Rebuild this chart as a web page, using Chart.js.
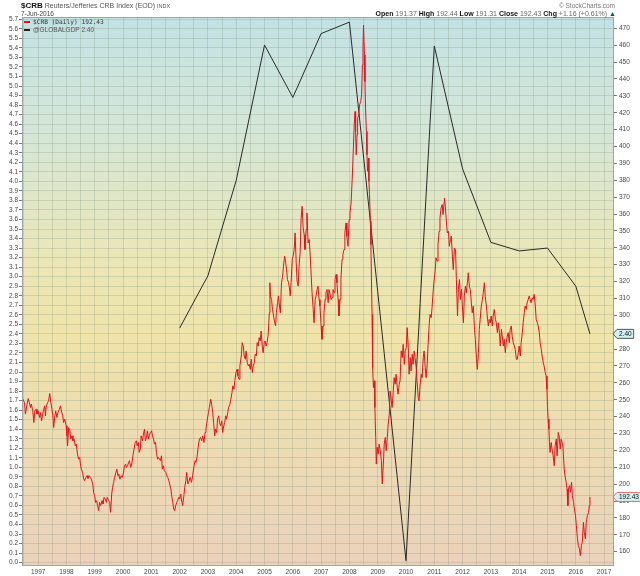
<!DOCTYPE html>
<html>
<head>
<meta charset="utf-8">
<title>$CRB vs @GLOBALGDP</title>
<script src="https://cdn.jsdelivr.net/npm/chart.js@4.4.1/dist/chart.umd.min.js"></script>
<style>
  body { margin: 0; background: #fff; font-family: "Liberation Sans", Arial, sans-serif; }
  #wrap { position: relative; width: 640px; height: 576px; overflow: hidden; }
  #chart { position: absolute; left: 0; top: 0; }
  .txt { position: absolute; white-space: nowrap; color: #444; line-height: 1; }
  #head { left: 21px; top: 2px; font-size: 8px; }
  #sym { font-size: 8px; font-weight: bold; color: #111; }
  #name { font-size: 7px; color: #555; margin-left: 2px; }
  #date { left: 21px; top: 11px; font-size: 6.5px; color: #444; }
  #copy { right: 25px; top: 3px; font-size: 6.5px; color: #777; }
  #quote { right: 24px; top: 10px; font-size: 7px; color: #666; }
  #quote b { color: #111; }
  #legend { left: 24px; top: 19px; font-size: 6.5px; }
  #legend div { height: 8px; }
  #legend i { display: inline-block; width: 6px; height: 2px; margin-right: 3px; vertical-align: middle; }
  .mono { font-family: "DejaVu Sans Mono", "Liberation Mono", monospace; font-size: 6.2px; color: #333; }
</style>
</head>
<body>
<div id="wrap">
  <canvas id="chart" width="640" height="576"></canvas>
  <div class="txt" id="head"><span id="sym">$CRB</span><span id="name">Reuters/Jefferies CRB Index (EOD) <span style="font-size:5.5px">INDX</span></span></div>
  <div class="txt" id="date">7-Jun-2016</div>
  <div class="txt" id="copy">© StockCharts.com</div>
  <div class="txt" id="quote"><b>Open</b> 191.37 <b>High</b> 192.44 <b>Low</b> 191.31 <b>Close</b> 192.43 <b>Chg</b> +1.16 (+0.61%) <span style="color:#063">▲</span></div>
  <div class="txt" id="legend">
    <div><i style="background:#e8101a"></i><span class="mono">$CRB (Daily) 192.43</span></div>
    <div><i style="background:#222"></i><span style="color:#555">@GLOBALGDP 2.40</span></div>
  </div>
</div>
<script>
// CRB index (decimal year / index value)
const crbYears = [
  1996.44, 1996.46, 1996.52, 1996.55, 1996.61, 1996.65, 1996.69, 1996.73, 1996.76, 1996.81, 1996.85, 1996.88, 1996.93, 1996.96,
  1997.00, 1997.05, 1997.08, 1997.12, 1997.16, 1997.20, 1997.23, 1997.26, 1997.28, 1997.33, 1997.37, 1997.41, 1997.45, 1997.49,
  1997.52, 1997.55, 1997.59, 1997.62, 1997.66, 1997.70, 1997.75, 1997.79, 1997.82, 1997.87, 1997.90, 1997.94, 1997.99,
  1998.02, 1998.04, 1998.08, 1998.12, 1998.15, 1998.20, 1998.23, 1998.27, 1998.31, 1998.35, 1998.39, 1998.43, 1998.47, 1998.50,
  1998.53, 1998.57, 1998.61, 1998.64, 1998.69, 1998.73, 1998.76, 1998.81, 1998.84, 1998.88, 1998.93, 1998.96,
  1999.00, 1999.03, 1999.07, 1999.10, 1999.14, 1999.17, 1999.21, 1999.26, 1999.29, 1999.33, 1999.37, 1999.41, 1999.44, 1999.49,
  1999.53, 1999.56, 1999.60, 1999.63, 1999.67, 1999.70, 1999.75, 1999.78, 1999.82, 1999.85, 1999.89, 1999.94, 1999.97,
  2000.01, 2000.05, 2000.09, 2000.12, 2000.16, 2000.20, 2000.23, 2000.27, 2000.31, 2000.35, 2000.39, 2000.43, 2000.47, 2000.50,
  2000.54, 2000.57, 2000.61, 2000.64, 2000.69, 2000.72, 2000.76, 2000.79, 2000.83, 2000.86, 2000.90, 2000.94, 2000.97,
  2001.01, 2001.04, 2001.08, 2001.11, 2001.15, 2001.18, 2001.22, 2001.25, 2001.29, 2001.32, 2001.36, 2001.39, 2001.43, 2001.46,
  2001.51, 2001.55, 2001.58, 2001.62, 2001.65, 2001.69, 2001.72, 2001.76, 2001.79, 2001.83, 2001.86, 2001.90, 2001.93, 2001.97,
  2002.00, 2002.04, 2002.08, 2002.11, 2002.15, 2002.18, 2002.22, 2002.25, 2002.29, 2002.32, 2002.37, 2002.42, 2002.46, 2002.51,
  2002.55, 2002.58, 2002.63, 2002.66, 2002.70, 2002.74, 2002.78, 2002.82, 2002.86, 2002.90, 2002.93, 2002.98,
  2003.02, 2003.05, 2003.10, 2003.13, 2003.17, 2003.20, 2003.24, 2003.27, 2003.31, 2003.34, 2003.38, 2003.41, 2003.45, 2003.49,
  2003.52, 2003.56, 2003.59, 2003.63, 2003.66, 2003.70, 2003.73, 2003.78, 2003.81, 2003.85, 2003.88, 2003.92, 2003.95, 2003.99,
  2004.03, 2004.06, 2004.10, 2004.13, 2004.18, 2004.21, 2004.25, 2004.28, 2004.32, 2004.35, 2004.39, 2004.43, 2004.46, 2004.50,
  2004.53, 2004.57, 2004.60, 2004.64, 2004.67, 2004.71, 2004.74, 2004.78, 2004.81, 2004.85, 2004.88, 2004.92, 2004.95, 2004.99,
  2005.02, 2005.06, 2005.09, 2005.13, 2005.17, 2005.19, 2005.21, 2005.25, 2005.28, 2005.32, 2005.35, 2005.39, 2005.42, 2005.46,
  2005.49, 2005.53, 2005.56, 2005.60, 2005.64, 2005.67, 2005.71, 2005.74, 2005.78, 2005.81, 2005.85, 2005.88, 2005.91, 2005.94, 2005.98,
  2006.01, 2006.05, 2006.08, 2006.12, 2006.15, 2006.19, 2006.22, 2006.26, 2006.29, 2006.33, 2006.36, 2006.40, 2006.43, 2006.47,
  2006.50, 2006.54, 2006.58, 2006.61, 2006.65, 2006.68, 2006.72, 2006.75, 2006.79, 2006.82, 2006.86, 2006.89, 2006.93, 2006.96,
  2007.00, 2007.03, 2007.07, 2007.10, 2007.14, 2007.17, 2007.21, 2007.25, 2007.28, 2007.32, 2007.35, 2007.39, 2007.42, 2007.46,
  2007.49, 2007.53, 2007.56, 2007.60, 2007.63, 2007.67, 2007.70, 2007.74, 2007.77, 2007.81, 2007.84, 2007.88, 2007.91, 2007.95, 2007.99,
  2008.02, 2008.06, 2008.10, 2008.14, 2008.17, 2008.20, 2008.22, 2008.24, 2008.27, 2008.29, 2008.33, 2008.36, 2008.40, 2008.43,
  2008.46, 2008.48, 2008.50, 2008.53, 2008.55, 2008.57, 2008.60, 2008.62, 2008.64, 2008.67, 2008.69, 2008.71, 2008.74, 2008.76,
  2008.78, 2008.80, 2008.81, 2008.83, 2008.85, 2008.88, 2008.90, 2008.93, 2008.95, 2008.98,
  2009.02, 2009.05, 2009.09, 2009.13, 2009.16, 2009.20, 2009.23, 2009.27, 2009.30, 2009.34, 2009.37, 2009.41, 2009.44, 2009.48,
  2009.51, 2009.55, 2009.58, 2009.62, 2009.65, 2009.69, 2009.72, 2009.76, 2009.79, 2009.83, 2009.87, 2009.90, 2009.94, 2009.97,
  2010.01, 2010.04, 2010.08, 2010.11, 2010.15, 2010.18, 2010.22, 2010.25, 2010.29, 2010.32, 2010.36, 2010.39, 2010.43, 2010.46,
  2010.50, 2010.54, 2010.57, 2010.61, 2010.64, 2010.68, 2010.71, 2010.75, 2010.78, 2010.82, 2010.85, 2010.89, 2010.92, 2010.96, 2010.99,
  2011.03, 2011.06, 2011.10, 2011.13, 2011.17, 2011.20, 2011.24, 2011.28, 2011.31, 2011.35, 2011.36, 2011.39, 2011.43, 2011.46,
  2011.50, 2011.53, 2011.57, 2011.60, 2011.64, 2011.67, 2011.71, 2011.75, 2011.78, 2011.82, 2011.85, 2011.89, 2011.92, 2011.96, 2011.99,
  2012.03, 2012.06, 2012.10, 2012.13, 2012.17, 2012.20, 2012.24, 2012.27, 2012.31, 2012.34, 2012.38, 2012.42, 2012.45, 2012.49,
  2012.52, 2012.56, 2012.59, 2012.63, 2012.66, 2012.70, 2012.73, 2012.77, 2012.80, 2012.84, 2012.87, 2012.91, 2012.94, 2012.98,
  2013.01, 2013.05, 2013.08, 2013.12, 2013.16, 2013.19, 2013.23, 2013.26, 2013.30, 2013.33, 2013.37, 2013.40, 2013.44, 2013.47,
  2013.51, 2013.54, 2013.58, 2013.61, 2013.65, 2013.68, 2013.72, 2013.75, 2013.79, 2013.83, 2013.86, 2013.90, 2013.93, 2013.97,
  2014.00, 2014.04, 2014.07, 2014.11, 2014.14, 2014.18, 2014.21, 2014.25, 2014.28, 2014.32, 2014.35, 2014.39, 2014.42, 2014.46,
  2014.49, 2014.53, 2014.57, 2014.60, 2014.64, 2014.67, 2014.71, 2014.74, 2014.78, 2014.81, 2014.85, 2014.88, 2014.92, 2014.95, 2014.98,
  2015.00, 2015.02, 2015.05, 2015.07, 2015.09, 2015.13, 2015.16, 2015.20, 2015.24, 2015.27, 2015.31, 2015.34, 2015.38, 2015.41,
  2015.45, 2015.48, 2015.52, 2015.55, 2015.59, 2015.62, 2015.66, 2015.69, 2015.72, 2015.74, 2015.78, 2015.81, 2015.85, 2015.88,
  2015.92, 2015.95, 2015.99, 2016.02, 2016.06, 2016.09, 2016.13, 2016.16, 2016.20, 2016.23, 2016.27, 2016.30, 2016.34, 2016.37,
  2016.41, 2016.45, 2016.48, 2016.50
];
const crbValues = [
  249.3, 250.3, 248.3, 241.5, 247.4, 250.7, 248.3, 245.4, 247.4, 243.4, 236.5, 243.4, 244.4, 241.5,
  243.4, 239.5, 242.4, 237.5, 241.5, 244.4, 246.4, 240.5, 245.4, 248.3, 249.3, 253.7, 248.3, 244.4,
  240.5, 233.6, 240.5, 243.4, 239.5, 242.4, 244.4, 246.4, 243.4, 240.5, 236.5, 238.5, 234.6,
  228.6, 222.7, 233.5, 231.6, 226.7, 228.6, 225.7, 226.7, 222.7, 223.7, 217.8, 214.8, 215.8, 210.9,
  208.9, 207.0, 203.0, 202.0, 204.0, 205.0, 203.4, 205.0, 204.0, 203.0, 200.1, 195.1,
  193.2, 189.2, 190.2, 187.3, 184.3, 189.2, 187.3, 190.2, 188.3, 192.2, 191.2, 189.2, 192.2, 190.2,
  189.2, 183.3, 194.2, 198.1, 201.1, 204.0, 207.0, 208.9, 205.0, 206.0, 203.0, 205.0, 204.0,
  206.0, 210.9, 211.9, 209.9, 210.9, 212.9, 213.9, 209.9, 211.9, 216.8, 220.8, 224.7, 225.7, 222.7,
  224.7, 218.8, 220.8, 228.6, 225.7, 229.6, 232.6, 225.7, 227.6, 231.6, 226.7, 229.6, 230.6,
  231.6, 228.6, 226.7, 223.7, 224.7, 218.8, 214.8, 215.8, 214.8, 213.9, 216.8, 208.9, 210.9, 208.0,
  207.0, 205.0, 204.0, 202.0, 200.1, 197.1, 193.2, 189.2, 185.3, 184.3, 187.3, 189.2, 190.2, 192.2,
  191.2, 194.2, 189.2, 187.3, 193.2, 198.1, 202.0, 207.0, 200.1, 201.1, 204.0, 201.1, 205.0, 210.9,
  213.9, 212.9, 217.8, 222.7, 226.7, 227.7, 225.7, 228.6, 224.7, 230.6, 232.6, 238.5,
  242.4, 245.4, 250.3, 247.4, 242.4, 236.5, 228.6, 232.6, 230.6, 238.5, 240.5, 236.5, 234.6, 237.5,
  230.6, 234.6, 236.5, 240.5, 238.5, 242.4, 245.4, 247.4, 250.3, 254.3, 258.2, 256.2, 261.2, 266.1,
  268.0, 264.1, 262.1, 270.0, 275.9, 283.8, 281.8, 275.9, 274.0, 278.9, 272.0, 270.0, 271.0, 268.0,
  274.0, 266.1, 270.0, 272.0, 276.9, 275.9, 283.8, 281.8, 286.8, 284.8, 290.7, 281.8, 277.9, 283.8,
  284.8, 281.8, 283.8, 288.7, 301.5, 319.3, 311.4, 309.4, 303.5, 299.6, 296.6, 293.7, 301.5, 307.5,
  311.4, 305.5, 301.5, 319.3, 323.2, 329.1, 335.0, 332.1, 327.1, 321.2, 319.3, 316.3, 311.4, 319.3, 333.0,
  335.0, 339.0, 348.8, 331.1, 320.3, 317.3, 329.1, 337.0, 356.7, 364.6, 352.8, 347.8, 339.0, 350.8,
  360.6, 342.9, 344.9, 337.0, 323.2, 313.4, 303.5, 295.6, 309.4, 311.4, 315.3, 317.3, 309.4, 305.5,
  293.7, 285.8, 293.7, 301.5, 309.4, 313.4, 315.3, 307.5, 315.3, 312.4, 309.4, 310.4, 315.3, 313.4,
  321.2, 324.2, 319.3, 309.4, 299.6, 309.4, 321.2, 333.1, 336.0, 339.0, 348.8, 354.7, 346.8, 340.9, 356.7,
  360.6, 366.5, 381.3, 399.0, 412.8, 420.7, 408.9, 395.1, 406.9, 416.8, 418.8, 424.7, 426.6, 430.6,
  448.3, 458.2, 471.9, 454.2, 438.5, 422.7, 408.9, 395.1, 385.3, 393.1, 379.4, 371.5, 355.7, 341.9,
  320.3, 300.5, 282.8, 269.0, 257.2, 261.2, 245.4, 227.7, 211.9, 221.8,
  217.8, 223.7, 219.8, 213.9, 200.1, 211.9, 223.7, 227.7, 219.8, 227.7, 235.5, 241.5, 255.2, 249.3,
  245.4, 255.2, 263.1, 259.2, 265.1, 257.2, 253.3, 259.2, 261.2, 278.9, 275.0, 282.8, 271.0, 278.9,
  280.9, 292.7, 280.9, 265.1, 275.0, 267.1, 276.9, 271.0, 278.9, 275.0, 269.0, 261.2, 251.3, 249.3,
  259.2, 265.1, 263.1, 275.0, 278.9, 269.0, 263.1, 271.0, 282.8, 294.6, 300.5, 298.6, 304.5, 314.4, 320.3,
  326.2, 334.1, 332.1, 341.9, 349.8, 357.7, 363.6, 365.6, 359.7, 367.5, 369.5, 364.6, 354.7, 348.8,
  349.8, 340.9, 344.9, 346.9, 335.0, 327.1, 339.9, 339.0, 321.2, 299.6, 315.3, 321.2, 309.4, 315.3, 305.5,
  295.6, 311.4, 317.3, 313.4, 319.3, 325.2, 317.3, 315.3, 307.4, 301.5, 305.5, 291.7, 285.8, 274.0,
  268.0, 277.9, 291.7, 299.6, 305.5, 309.4, 313.4, 319.3, 311.4, 305.5, 299.6, 293.7, 297.6, 295.6,
  299.6, 293.7, 299.6, 303.5, 297.6, 295.6, 289.7, 295.6, 289.7, 281.8, 291.7, 287.7, 281.8, 285.8,
  277.9, 283.8, 287.7, 289.7, 283.8, 291.7, 293.7, 287.7, 283.8, 281.8, 279.9, 273.9, 273.9, 277.9,
  281.8, 275.9, 283.8, 289.7, 295.6, 301.5, 305.5, 303.5, 307.4, 309.4, 311.4, 309.4, 307.4, 310.4,
  309.4, 312.4, 305.5, 297.6, 295.6, 293.7, 289.7, 283.8, 279.9, 275.9, 272.0, 270.0, 266.1, 264.1, 256.2,
  246.4, 238.5, 232.6, 224.7, 218.8, 224.7, 220.8, 216.8, 210.9, 222.7, 226.7, 216.8, 230.6, 228.6,
  220.8, 226.7, 224.7, 220.8, 208.9, 205.0, 201.1, 197.1, 187.3, 197.1, 199.1, 195.2, 201.1, 193.2,
  189.2, 185.3, 181.4, 175.5, 167.6, 163.6, 161.7, 157.7, 163.6, 165.6, 177.4, 171.5, 167.6, 177.4,
  181.4, 183.3, 187.3, 192.43
];

// Global GDP growth, yearly points (left axis)
const gdpYears = [2002, 2003, 2004, 2005, 2006, 2007, 2008, 2010, 2011, 2012, 2013, 2014, 2015, 2016, 2016.50];
const gdpValues = [2.46, 3.01, 4.01, 5.43, 4.88, 5.55, 5.67, 0.02, 5.42, 4.13, 3.36, 3.27, 3.30, 2.90, 2.40];

const crbLast = crbValues[crbValues.length - 1];
const gdpLast = gdpValues[gdpValues.length - 1];

const tickFont = { family: '"Liberation Sans", Arial, sans-serif', size: 6.5 };
const gridColor = 'rgba(110,130,110,0.22)';

// background gradient of the plot area
const plotBackground = {
  id: 'plotBackground',
  beforeDraw(chart) {
    const c = chart.ctx;
    const a = chart.chartArea;
    c.save();
    c.fillStyle = '#ffffff';
    c.fillRect(0, 0, chart.width, chart.height);
    const g = c.createLinearGradient(0, a.top, 0, a.bottom);
    g.addColorStop(0, '#c3e2e4');
    g.addColorStop(0.2, '#d4e6d8');
    g.addColorStop(0.45, '#ebe6b6');
    g.addColorStop(0.58, '#efe4aa');
    g.addColorStop(0.8, '#ecdab4');
    g.addColorStop(1, '#ebd2bb');
    c.fillStyle = g;
    c.fillRect(a.left, a.top, a.right - a.left, a.bottom - a.top);
    c.restore();
  },
  afterDraw(chart) {
    const c = chart.ctx;
    const a = chart.chartArea;
    c.save();
    c.strokeStyle = '#9aa6a6';
    c.lineWidth = 1;
    c.strokeRect(a.left + 0.5, a.top + 0.5, a.right - a.left - 1, a.bottom - a.top - 1);
    c.restore();
  }
};

// boxes with the last values on the right edge
function tag(c, x, y, text, border) {
  c.font = '6.5px "Liberation Sans", Arial, sans-serif';
  const w = c.measureText(text).width + 4;
  c.fillStyle = '#d3f0f2';
  c.strokeStyle = border;
  c.lineWidth = 1;
  c.beginPath();
  c.moveTo(x - 3, y);
  c.lineTo(x + 1, y - 4.5);
  c.lineTo(x + 1 + w, y - 4.5);
  c.lineTo(x + 1 + w, y + 4.5);
  c.lineTo(x + 1, y + 4.5);
  c.closePath();
  c.fill();
  c.stroke();
  c.fillStyle = '#111';
  c.textBaseline = 'middle';
  c.fillText(text, x + 3, y + 0.5);
}

const valueTags = {
  id: 'valueTags',
  afterDraw(chart) {
    const c = chart.ctx;
    const x = chart.chartArea.right + 2;
    c.save();
    tag(c, x, chart.scales.y.getPixelForValue(gdpLast), gdpLast.toFixed(2), '#555');
    tag(c, x, chart.scales.yRight.getPixelForValue(crbLast), crbLast.toFixed(2), '#e07070');
    c.restore();
  }
};

const ctx = document.getElementById('chart').getContext('2d');

new Chart(ctx, {
  type: 'line',
  data: {
    datasets: [{
      label: '$CRB (Daily)',
      data: crbYears.map((x, i) => ({ x: x, y: crbValues[i] })),
      yAxisID: 'yRight',
      borderColor: '#e8101a',
      borderWidth: 1,
      pointRadius: 0,
      tension: 0
    }, {
      label: '@GLOBALGDP',
      data: gdpYears.map((x, i) => ({ x: x, y: gdpValues[i] })),
      yAxisID: 'y',
      borderColor: '#2a2a2a',
      borderWidth: 1,
      pointRadius: 0,
      tension: 0
    }]
  },
  options: {
    responsive: false,
    animation: false,
    layout: { padding: { top: 17, left: 0, right: 0, bottom: 0 } },
    plugins: {
      legend: { display: false },
      tooltip: { enabled: false }
    },
    scales: {
      x: {
        type: 'linear',
        min: 1996.43,
        max: 2017.35,
        afterFit: function (scale) { scale.height = 10; },
        grid: { color: gridColor, drawTicks: false },
        border: { display: false },
        ticks: {
          stepSize: 0.5,
          includeBounds: false,
          autoSkip: false,
          maxRotation: 0,
          padding: 2,
          color: '#444',
          font: tickFont,
          callback: function (v) {
            return Math.abs(v - Math.round(v)) < 0.001 ? String(Math.round(v)) : '';
          }
        }
      },
      y: {
        position: 'left',
        min: -0.035,
        max: 5.724,
        afterFit: function (scale) { scale.width = 22; },
        grid: { color: gridColor, tickLength: 3, tickColor: '#777' },
        border: { display: false },
        ticks: {
          stepSize: 0.1,
          includeBounds: false,
          autoSkip: false,
          padding: 1,
          color: '#444',
          font: tickFont,
          callback: function (v) { return v.toFixed(1); }
        }
      },
      yRight: {
        position: 'right',
        min: 151.53,
        max: 476.69,
        afterFit: function (scale) { scale.width = 26; },
        grid: { drawOnChartArea: false, tickLength: 3, tickColor: '#777' },
        border: { display: false },
        ticks: {
          stepSize: 10,
          includeBounds: false,
          autoSkip: false,
          padding: 2,
          color: '#444',
          font: tickFont
        }
      }
    }
  },
  plugins: [plotBackground, valueTags]
});
</script>
</body>
</html>
